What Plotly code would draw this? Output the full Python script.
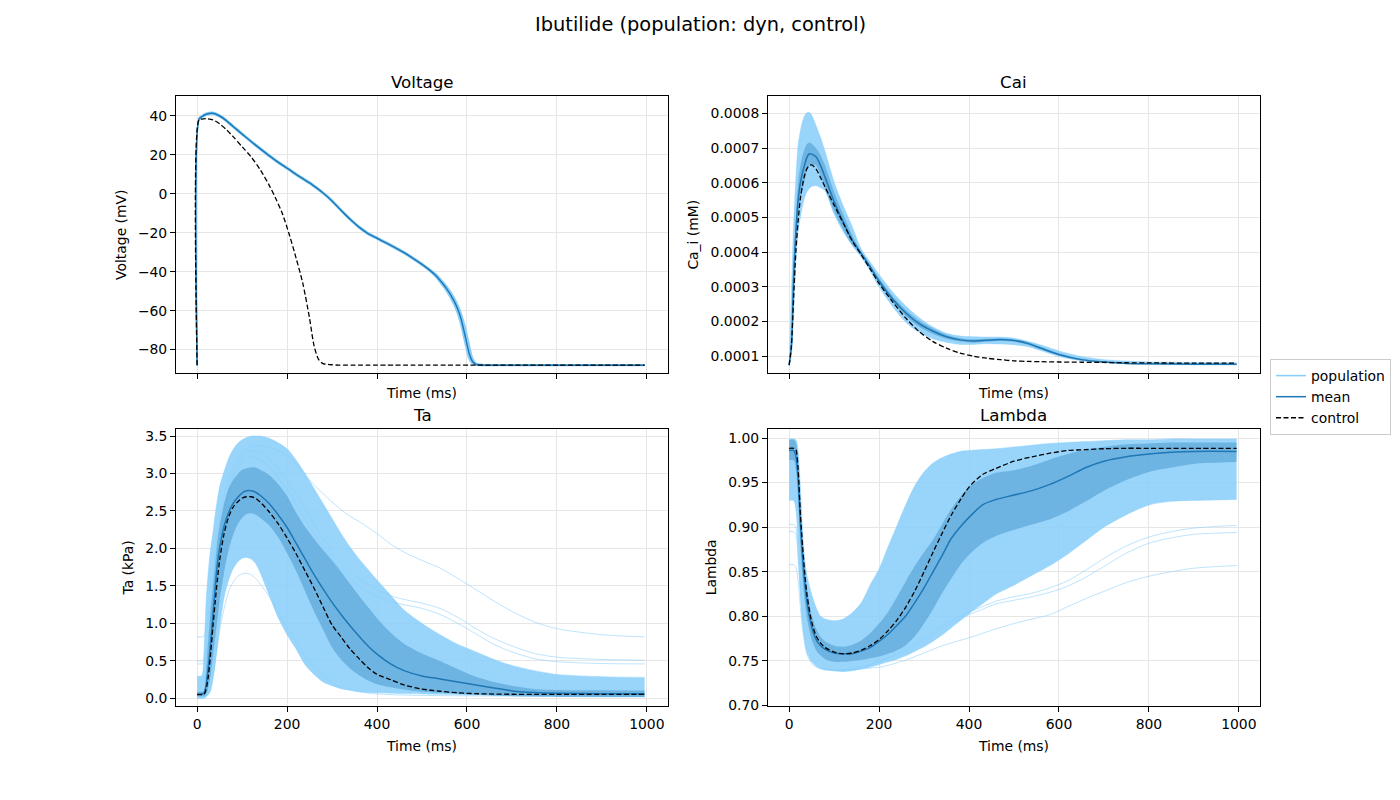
import plotly.graph_objects as go

# ---------------- Voltage ----------------
t_v = [0, 4, 10, 20, 35, 50, 65, 80, 100, 120, 140, 160, 175, 190, 205, 220, 235, 250,
       260, 270, 280, 290, 300, 315, 330, 345, 360, 380, 400, 420, 440, 460, 480, 500, 515, 530, 545, 555,
       565, 575, 585, 595, 605, 612, 620, 640, 700, 800, 900, 995]
v_mean = [-88.0, 38.3, 39.6, 40.9, 41.4, 40.0, 37.6, 34.6, 30.7, 26.9, 23.2, 19.6, 17.1, 14.7, 12.4, 10.0, 7.8, 5.6,
          3.95, 2.25, 0.45, -1.5, -3.7, -7.3, -10.8, -14.1, -17.1, -20.4, -22.8, -25.2, -27.6, -30.2, -33.1, -36.2, -38.8, -41.8, -45.8, -48.8,
          -52.4, -56.8, -62.8, -72.0, -82.0, -86.0, -87.6, -88.0, -88.0, -88.0, -88.0, -88.0]
v_ctrl = [-88.0, 38.0, 38.4, 38.6, 38.0, 36.0, 33.0, 29.4, 24.2, 19.0, 12.5, 4.5, -2.5, -10.5, -21.0, -33.0, -46.0, -64.0,
          -78.0, -85.0, -87.2, -87.6, -87.8, -88.0, -88.0, -88.0, -88.0, -88.0, -88.0, -88.0, -88.0, -88.0, -88.0, -88.0, -88.0, -88.0, -88.0, -88.0,
          -88.0, -88.0, -88.0, -88.0, -88.0, -88.0, -88.0, -88.0, -88.0, -88.0, -88.0, -88.0]
v_pop_hi = [-88.0, 38.8, 40.1, 41.4, 41.9, 40.5, 38.1, 35.1, 31.2, 27.4, 23.7, 20.1, 17.6, 15.2, 12.9, 10.5, 8.3, 6.1,
            4.45, 2.75, 0.95, -1.0, -3.2, -6.8, -10.3, -13.6, -16.6, -19.9, -22.3, -24.7, -27.1, -29.7, -32.6, -35.7, -38.3, -41.0, -44.6, -47.4,
            -50.8, -54.8, -60.0, -67.5, -77.5, -84.0, -87.0, -87.8, -87.8, -87.8, -87.8, -87.8]
v_pop_lo = [-88.0, 37.8, 39.1, 40.4, 40.9, 39.5, 37.1, 34.1, 30.2, 26.4, 22.7, 19.1, 16.6, 14.2, 11.9, 9.5, 7.3, 5.1,
            3.45, 1.75, -0.05, -2.0, -4.2, -7.8, -11.3, -14.6, -17.6, -20.9, -23.3, -25.7, -28.1, -30.7, -33.6, -36.7, -39.3, -42.6, -47.0, -50.2,
            -54.2, -59.0, -66.0, -76.0, -85.0, -87.3, -88.0, -88.2, -88.2, -88.2, -88.2, -88.2]

# ---------------- Cai ----------------
t_ca = [0, 5, 10, 15, 20, 25, 30, 35, 40, 45, 50, 60, 70, 80, 100, 120, 140, 160, 180, 200,
        230, 260, 290, 320, 350, 380, 410, 440, 470, 500, 530, 560, 600, 650, 700, 750, 800, 900, 995]
ca_mean = [0.74e-4, 1.27e-4, 3.3e-4, 4.6e-4, 5.5e-4, 6.0e-4, 6.31e-4, 6.55e-4, 6.75e-4, 6.84e-4, 6.83e-4, 6.75e-4, 6.5e-4, 6.16e-4,
           5.46e-4, 4.88e-4, 4.36e-4, 3.97e-4, 3.58e-4, 3.17e-4, 2.65e-4, 2.24e-4, 1.93e-4, 1.72e-4, 1.56e-4, 1.47e-4, 1.44e-4,
           1.46e-4, 1.48e-4, 1.45e-4, 1.37e-4, 1.23e-4, 1.05e-4, 0.90e-4, 0.83e-4, 0.79e-4, 0.78e-4, 0.77e-4, 0.765e-4]
ca_ctrl = [0.74e-4, 1.3e-4, 2.7e-4, 4.03e-4, 4.9e-4, 5.55e-4, 5.95e-4, 6.25e-4, 6.42e-4, 6.5e-4, 6.52e-4, 6.4e-4, 6.15e-4, 5.88e-4,
           5.36e-4, 4.85e-4, 4.33e-4, 3.93e-4, 3.52e-4, 3.1e-4, 2.57e-4, 2.09e-4, 1.70e-4, 1.42e-4, 1.23e-4, 1.09e-4, 1.0e-4,
           0.94e-4, 0.90e-4, 0.865e-4, 0.85e-4, 0.84e-4, 0.832e-4, 0.825e-4, 0.818e-4, 0.81e-4, 0.805e-4, 0.80e-4, 0.80e-4]
ca_pop_hi = [0.76e-4, 2.8e-4, 4.8e-4, 6.12e-4, 7.1e-4, 7.5e-4, 7.78e-4, 7.95e-4, 8.03e-4, 8.04e-4, 7.96e-4, 7.65e-4, 7.3e-4, 6.9e-4,
             6.03e-4, 5.35e-4, 4.75e-4, 4.1e-4, 3.72e-4, 3.36e-4, 2.85e-4, 2.44e-4, 2.1e-4, 1.84e-4, 1.66e-4, 1.58e-4, 1.56e-4,
             1.55e-4, 1.55e-4, 1.52e-4, 1.43e-4, 1.32e-4, 1.15e-4, 0.99e-4, 0.9e-4, 0.86e-4, 0.835e-4, 0.82e-4, 0.81e-4]
ca_pop_lo = [0.72e-4, 1.0e-4, 2.2e-4, 3.7e-4, 4.6e-4, 5.0e-4, 5.35e-4, 5.6e-4, 5.75e-4, 5.84e-4, 5.9e-4, 5.92e-4, 5.86e-4, 5.77e-4,
             5.1e-4, 4.6e-4, 4.2e-4, 3.86e-4, 3.46e-4, 3.0e-4, 2.43e-4, 1.97e-4, 1.68e-4, 1.50e-4, 1.40e-4, 1.34e-4, 1.34e-4,
             1.36e-4, 1.35e-4, 1.33e-4, 1.28e-4, 1.16e-4, 0.99e-4, 0.87e-4, 0.825e-4, 0.79e-4, 0.765e-4, 0.75e-4, 0.745e-4]
ca_sd_hi = [0.745e-4, 1.4e-4, 3.7e-4, 5.0e-4, 6.0e-4, 6.5e-4, 6.8e-4, 7.0e-4, 7.13e-4, 7.17e-4, 7.14e-4, 7.0e-4, 6.8e-4, 6.5e-4,
            5.74e-4, 5.1e-4, 4.5e-4, 4.02e-4, 3.64e-4, 3.25e-4, 2.74e-4, 2.33e-4, 2.02e-4, 1.8e-4, 1.62e-4, 1.52e-4, 1.49e-4,
            1.5e-4, 1.5e-4, 1.48e-4, 1.41e-4, 1.27e-4, 1.08e-4, 0.93e-4, 0.85e-4, 0.81e-4, 0.795e-4, 0.785e-4, 0.78e-4]
ca_sd_lo = [0.735e-4, 1.14e-4, 2.9e-4, 4.2e-4, 5.0e-4, 5.5e-4, 5.82e-4, 6.1e-4, 6.37e-4, 6.5e-4, 6.52e-4, 6.5e-4, 6.2e-4, 5.82e-4,
            5.18e-4, 4.66e-4, 4.22e-4, 3.92e-4, 3.52e-4, 3.09e-4, 2.56e-4, 2.15e-4, 1.84e-4, 1.64e-4, 1.50e-4, 1.42e-4, 1.39e-4,
            1.42e-4, 1.44e-4, 1.42e-4, 1.33e-4, 1.19e-4, 1.02e-4, 0.87e-4, 0.81e-4, 0.77e-4, 0.765e-4, 0.755e-4, 0.75e-4]

# ---------------- Ta ----------------
t_ta = [0, 10, 15, 20, 25, 30, 35, 40, 45, 50, 60, 70, 80, 90, 100, 110, 120, 130, 140, 160, 180, 200,
        220, 240, 260, 280, 300, 320, 340, 360, 380, 400, 430, 460, 500, 540, 580, 620, 660, 700, 750, 800, 900, 995]
ta_mean = [0.06, 0.06, 0.07, 0.18, 0.42, 0.75, 1.1, 1.46, 1.79, 2.0, 2.3, 2.48, 2.6, 2.68, 2.74, 2.77, 2.77, 2.75, 2.71, 2.6, 2.45, 2.28,
           2.07, 1.86, 1.65, 1.46, 1.28, 1.12, 0.97, 0.83, 0.7, 0.59, 0.46, 0.37, 0.30, 0.26, 0.22, 0.18, 0.14, 0.1, 0.078, 0.068, 0.063, 0.062]
ta_ctrl = [0.05, 0.05, 0.05, 0.12, 0.3, 0.6, 0.95, 1.28, 1.58, 1.84, 2.2, 2.42, 2.55, 2.62, 2.67, 2.69, 2.69, 2.67, 2.62, 2.49, 2.33, 2.14,
           1.93, 1.7, 1.47, 1.22, 0.98, 0.82, 0.66, 0.53, 0.41, 0.32, 0.25, 0.18, 0.125, 0.095, 0.075, 0.063, 0.058, 0.055, 0.054, 0.054, 0.053, 0.053]
ta_sd_hi = [0.09, 0.09, 0.1, 0.4, 0.8, 1.18, 1.48, 1.78, 2.1, 2.3, 2.6, 2.8, 2.91, 2.99, 3.05, 3.07, 3.08, 3.08, 3.05, 2.98, 2.86, 2.70,
            2.48, 2.29, 2.13, 1.98, 1.84, 1.69, 1.53, 1.37, 1.22, 1.07, 0.88, 0.73, 0.6, 0.5, 0.39, 0.29, 0.22, 0.17, 0.125, 0.112, 0.108, 0.106]
ta_sd_lo = [0.03, 0.03, 0.03, 0.05, 0.15, 0.3, 0.55, 0.8, 1.05, 1.3, 1.68, 1.98, 2.18, 2.32, 2.41, 2.46, 2.47, 2.45, 2.41, 2.31, 2.15, 1.94,
            1.7, 1.43, 1.16, 0.92, 0.68, 0.52, 0.4, 0.31, 0.24, 0.19, 0.15, 0.12, 0.09, 0.075, 0.06, 0.05, 0.038, 0.03, 0.025, 0.02, 0.02, 0.02]
ta_pop_hi = [0.3, 0.3, 0.6, 1.3, 1.7, 2.0, 2.2, 2.45, 2.65, 2.82, 3.03, 3.2, 3.32, 3.4, 3.45, 3.48, 3.5, 3.5, 3.5, 3.47, 3.41, 3.33,
             3.18, 3.0, 2.8, 2.6, 2.4, 2.2, 2.02, 1.86, 1.72, 1.58, 1.38, 1.18, 1.0, 0.85, 0.72, 0.62, 0.52, 0.44, 0.37, 0.32, 0.29, 0.28]
ta_pop_lo = [0.0, 0.0, 0.0, 0.02, 0.05, 0.1, 0.25, 0.45, 0.7, 0.95, 1.35, 1.58, 1.73, 1.82, 1.87, 1.88, 1.86, 1.8, 1.68, 1.38, 1.08, 0.85,
             0.66, 0.45, 0.32, 0.22, 0.17, 0.13, 0.11, 0.09, 0.08, 0.075, 0.07, 0.065, 0.06, 0.055, 0.05, 0.045, 0.04, 0.035, 0.03, 0.025, 0.02, 0.02]
ta_line_a = [0.82, 0.82, 0.83, 0.9, 1.05, 1.3, 1.6, 1.9, 2.15, 2.38, 2.7, 2.92, 3.08, 3.2, 3.28, 3.33, 3.36, 3.37, 3.37, 3.35, 3.31, 3.24,
             3.12, 2.98, 2.85, 2.73, 2.62, 2.52, 2.43, 2.36, 2.28, 2.2, 2.06, 1.95, 1.84, 1.74, 1.6, 1.45, 1.3, 1.16, 1.02, 0.93, 0.85, 0.82]
ta_line_b = [0.5, 0.5, 0.51, 0.6, 0.8, 1.05, 1.35, 1.65, 1.9, 2.12, 2.5, 2.78, 2.98, 3.12, 3.22, 3.28, 3.3, 3.3, 3.28, 3.2, 3.07, 2.9,
             2.72, 2.52, 2.32, 2.13, 1.96, 1.82, 1.7, 1.6, 1.52, 1.45, 1.37, 1.32, 1.27, 1.2, 1.08, 0.93, 0.8, 0.7, 0.6, 0.55, 0.52, 0.51]
ta_line_c = [0.46, 0.46, 0.47, 0.55, 0.75, 1.0, 1.28, 1.58, 1.84, 2.06, 2.44, 2.72, 2.92, 3.06, 3.15, 3.2, 3.22, 3.21, 3.18, 3.09, 2.95, 2.78,
             2.59, 2.39, 2.2, 2.02, 1.86, 1.72, 1.6, 1.5, 1.42, 1.36, 1.29, 1.25, 1.2, 1.12, 1.0, 0.86, 0.72, 0.62, 0.53, 0.49, 0.465, 0.46]
ta_line_d = [0.02, 0.02, 0.02, 0.03, 0.06, 0.15, 0.3, 0.5, 0.7, 0.9, 1.2, 1.42, 1.55, 1.63, 1.66, 1.67, 1.65, 1.6, 1.53, 1.36, 1.15, 0.95,
             0.75, 0.57, 0.42, 0.3, 0.21, 0.15, 0.11, 0.09, 0.07, 0.06, 0.05, 0.045, 0.04, 0.037, 0.035, 0.033, 0.032, 0.031, 0.03, 0.03, 0.03, 0.03]

# ---------------- Lambda ----------------
t_lam = [0, 10, 15, 20, 25, 30, 35, 40, 50, 60, 70, 80, 100, 120, 140, 160, 180, 200, 220, 240, 260,
         280, 300, 320, 340, 360, 380, 400, 430, 460, 500, 540, 580, 620, 660, 700, 750, 800, 850, 900, 995]
lam_mean = [0.986, 0.986, 0.98, 0.954, 0.905, 0.865, 0.836, 0.815, 0.788, 0.774, 0.767, 0.763, 0.759, 0.758, 0.758, 0.761, 0.765, 0.772,
            0.78, 0.79, 0.801, 0.816, 0.832, 0.85, 0.868, 0.887, 0.9, 0.911, 0.925, 0.931, 0.936, 0.941, 0.948, 0.957, 0.967, 0.974,
            0.979, 0.982, 0.984, 0.985, 0.985]
lam_ctrl = [0.9885, 0.9885, 0.987, 0.965, 0.915, 0.878, 0.847, 0.823, 0.794, 0.778, 0.77, 0.765, 0.76, 0.758, 0.759, 0.762, 0.767, 0.774,
            0.784, 0.796, 0.811, 0.829, 0.85, 0.872, 0.893, 0.913, 0.93, 0.945, 0.959, 0.966, 0.974, 0.979, 0.983, 0.986, 0.987, 0.988,
            0.9885, 0.9885, 0.9885, 0.9885, 0.9885]
lam_sd_hi = [0.998, 0.998, 0.995, 0.975, 0.93, 0.888, 0.855, 0.832, 0.802, 0.786, 0.777, 0.772, 0.767, 0.766, 0.768, 0.773, 0.781, 0.792,
             0.805, 0.822, 0.84, 0.857, 0.872, 0.886, 0.903, 0.92, 0.934, 0.945, 0.955, 0.961, 0.964, 0.969, 0.976, 0.982, 0.987, 0.99,
             0.993, 0.994, 0.995, 0.995, 0.995]
lam_sd_lo = [0.975, 0.975, 0.965, 0.93, 0.88, 0.842, 0.815, 0.797, 0.774, 0.762, 0.756, 0.752, 0.749, 0.749, 0.75, 0.751, 0.753, 0.755,
             0.758, 0.762, 0.768, 0.778, 0.792, 0.808, 0.826, 0.842, 0.857, 0.869, 0.882, 0.89, 0.897, 0.903, 0.909, 0.918, 0.929, 0.941,
             0.953, 0.962, 0.967, 0.971, 0.973]
lam_pop_hi = [0.999, 0.999, 0.998, 0.985, 0.945, 0.895, 0.862, 0.845, 0.825, 0.81, 0.8, 0.797, 0.795, 0.797, 0.804, 0.815, 0.835, 0.853,
              0.878, 0.902, 0.926, 0.947, 0.962, 0.972, 0.978, 0.982, 0.985, 0.986, 0.987, 0.988, 0.99, 0.992, 0.994, 0.995, 0.996, 0.997,
              0.998, 0.998, 0.999, 0.999, 0.999]
lam_pop_lo = [0.93, 0.93, 0.92, 0.88, 0.83, 0.795, 0.775, 0.762, 0.75, 0.745, 0.742, 0.74, 0.739, 0.738, 0.739, 0.741, 0.743, 0.746,
              0.749, 0.752, 0.756, 0.761, 0.766, 0.772, 0.779, 0.787, 0.795, 0.803, 0.814, 0.825, 0.835, 0.846, 0.857, 0.87, 0.885, 0.9,
              0.914, 0.925, 0.929, 0.93, 0.931]
lam_line_a = [0.858, 0.858, 0.855, 0.84, 0.81, 0.785, 0.768, 0.757, 0.747, 0.743, 0.741, 0.74, 0.739, 0.739, 0.74, 0.741, 0.742, 0.743,
              0.745, 0.748, 0.751, 0.755, 0.759, 0.763, 0.767, 0.77, 0.773, 0.776, 0.781, 0.786, 0.792, 0.797, 0.802, 0.811, 0.82, 0.828,
              0.838, 0.845, 0.85, 0.854, 0.857]
lam_line_b = [0.903, 0.903, 0.9, 0.87, 0.83, 0.795, 0.774, 0.76, 0.75, 0.745, 0.742, 0.741, 0.74, 0.74, 0.741, 0.743, 0.746, 0.75,
              0.754, 0.759, 0.765, 0.771, 0.777, 0.783, 0.789, 0.795, 0.8, 0.805, 0.811, 0.817, 0.822, 0.826, 0.832, 0.84, 0.852, 0.865,
              0.879, 0.889, 0.895, 0.899, 0.902]
lam_line_c = [0.895, 0.895, 0.892, 0.865, 0.826, 0.792, 0.772, 0.759, 0.749, 0.744, 0.742, 0.741, 0.74, 0.74, 0.741, 0.743, 0.746, 0.749,
              0.753, 0.757, 0.762, 0.768, 0.774, 0.78, 0.786, 0.792, 0.797, 0.802, 0.808, 0.814, 0.818, 0.822, 0.827, 0.834, 0.844, 0.856,
              0.871, 0.882, 0.888, 0.892, 0.894]

POP = "#87CEFA"
POP_FILL = "rgba(135,206,250,0.85)"
POP_LINE = "rgba(135,206,250,0.55)"
SD_FILL = "rgba(31,119,180,0.35)"
MEAN = "#1f77b4"
FONT = "DejaVu Sans"

fig = go.Figure()


def add_band(t, hi, lo, xa, ya, fillcolor, linecolor, width, name=None):
    # upper edge first (plain line, can carry the legend), lower edge fills up to it
    fig.add_trace(go.Scatter(x=t, y=hi, xaxis=xa, yaxis=ya, mode="lines",
                             line=dict(color=linecolor, width=width, shape="spline", smoothing=0.8),
                             name=name or "", showlegend=name is not None, hoverinfo="skip"))
    fig.add_trace(go.Scatter(x=t, y=lo, xaxis=xa, yaxis=ya, mode="lines",
                             line=dict(color=linecolor, width=width, shape="spline", smoothing=0.8),
                             fill="tonexty", fillcolor=fillcolor, showlegend=False, hoverinfo="skip"))


def add_line(t, y, xa, ya, color, width, dash=None, name=None):
    fig.add_trace(go.Scatter(x=t, y=y, xaxis=xa, yaxis=ya, mode="lines",
                             line=dict(color=color, width=width, dash=dash, shape="spline", smoothing=0.8),
                             name=name or "", showlegend=name is not None, hoverinfo="skip"))


panels = [
    ("x", "y", t_v, v_pop_hi, v_pop_lo, None, None, v_mean, v_ctrl, []),
    ("x2", "y2", t_ca, ca_pop_hi, ca_pop_lo, ca_sd_hi, ca_sd_lo, ca_mean, ca_ctrl, []),
    ("x3", "y3", t_ta, ta_pop_hi, ta_pop_lo, ta_sd_hi, ta_sd_lo, ta_mean, ta_ctrl,
     [ta_line_a, ta_line_b, ta_line_c, ta_line_d]),
    ("x4", "y4", t_lam, lam_pop_hi, lam_pop_lo, lam_sd_hi, lam_sd_lo, lam_mean, lam_ctrl,
     [lam_line_a, lam_line_b, lam_line_c]),
]

for i, (xa, ya, t, p_hi, p_lo, s_hi, s_lo, mean, ctrl, extra) in enumerate(panels):
    first = i == 0
    if first:
        add_band(t, p_hi, p_lo, xa, ya, POP_FILL, POP, 1.5, name="population")
    else:
        add_band(t, p_hi, p_lo, xa, ya, POP_FILL, POP_LINE, 0.8)
    for line in extra:
        add_line(t, line, xa, ya, POP_LINE, 1)
    if s_hi is not None:
        add_band(t, s_hi, s_lo, xa, ya, SD_FILL, "rgba(31,119,180,0)", 0)
    add_line(t, mean, xa, ya, MEAN, 1.5, name="mean" if first else None)
    add_line(t, ctrl, xa, ya, "black", 1.3, dash="5px,2.5px", name="control" if first else None)


# the page body adds an 8 px offset, so reference pixel positions are shifted back by 8
def px_x(x):
    return (x - 8) / 1400


def px_y(y):
    return 1 - (y - 8) / 800


tick_font = dict(family=FONT, size=13.9, color="black")
common = dict(showline=True, linecolor="black", linewidth=1, mirror=True, ticks="outside",
              ticklen=5, tickcolor="black", showgrid=True, gridcolor="#e6e6e6", gridwidth=1,
              zeroline=False, tickfont=tick_font)

x_left = [px_x(176), px_x(668)]
x_right = [px_x(768), px_x(1260)]
y_top = [px_y(376), px_y(96)]
y_bot = [px_y(712), px_y(432)]


def xaxis(domain, anchor, labels):
    return dict(common, domain=domain, anchor=anchor, range=[-47, 1047], tick0=0, dtick=200,
                showticklabels=labels,
                title=dict(text="Time (ms)", font=tick_font, standoff=10 if labels else 9))


def yaxis(domain, anchor, rng, dtick, fmt, title):
    return dict(common, domain=domain, anchor=anchor, range=rng, dtick=dtick, tickformat=fmt,
                title=dict(text=title, font=tick_font, standoff=8))


fig.update_layout(
    width=1400, height=800,
    margin=dict(l=0, r=0, t=0, b=0),
    paper_bgcolor="white", plot_bgcolor="white",
    font=dict(family=FONT, color="black"),
    xaxis=xaxis(x_left, "y", False),
    yaxis=yaxis(y_top, "x", [-92.2, 50.2], 20, None, "Voltage (mV)"),
    xaxis2=xaxis(x_right, "y2", False),
    yaxis2=yaxis(y_top, "x2", [0.0000505, 0.0008505], 0.0001, ".4f", "Ca_i (mM)"),
    xaxis3=xaxis(x_left, "y3", True),
    yaxis3=yaxis(y_bot, "x3", [-0.101, 3.597], 0.5, ".1f", "Ta (kPa)"),
    xaxis4=xaxis(x_right, "y4", True),
    yaxis4=yaxis(y_bot, "x4", [0.6995, 1.0104], 0.05, ".2f", "Lambda"),
    legend=dict(x=px_x(1270), xanchor="left", y=px_y(400), yanchor="middle", traceorder="normal",
                bordercolor="#cccccc", borderwidth=1, bgcolor="white",
                font=dict(family=FONT, size=13.9, color="black")),
    showlegend=True,
)

titles = [("Voltage", x_left, y_top), ("Cai", x_right, y_top), ("Ta", x_left, y_bot), ("Lambda", x_right, y_bot)]
for text, xd, yd in titles:
    fig.add_annotation(text=text, x=(xd[0] + xd[1]) / 2, y=yd[1], xref="paper", yref="paper",
                       xanchor="center", yanchor="bottom", yshift=2, showarrow=False,
                       font=dict(family=FONT, size=16.7, color="black"))

fig.add_annotation(text="Ibutilide (population: dyn, control)", x=px_x(700), y=px_y(24),
                   xref="paper", yref="paper", xanchor="center", yanchor="middle",
                   showarrow=False, font=dict(family=FONT, size=19.4, color="black"))

fig.write_html("out.html")
